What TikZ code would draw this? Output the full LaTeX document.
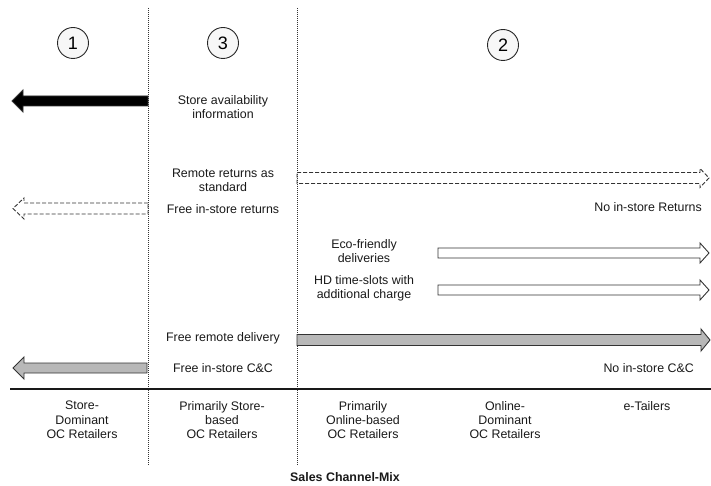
\documentclass[tikz,border=0pt]{standalone}
\usepackage{fontspec}
\setmainfont{Liberation Sans}
\newcommand\blockarrow[7]{%
  \draw[#1] ({#2},{#5-#6}) -- ({#3},{#5-#6}) -- ({#3},{#5-#7}) -- ({#4},{#5})
    -- ({#3},{#5+#7}) -- ({#3},{#5+#6}) -- ({#2},{#5+#6}) -- cycle;}
\begin{document}
\begin{tikzpicture}[x=1pt,y=-1pt,
  txt/.style={align=center,font=\fontsize{12.4}{14.2}\selectfont,text=black!90,inner sep=0pt},
  num/.style={circle,draw=black!85,line width=0.9pt,fill=black!3,minimum size=31pt,inner sep=0pt,font=\fontsize{18}{18}\selectfont},
  sep/.style={draw=black!80,line width=1pt,dash pattern=on 1pt off 1pt},
  solidarrow/.style={draw=black!80,line width=0.9pt,line join=miter},
  dasharrow/.style={draw=black!80,line width=0.9pt,dash pattern=on 4pt off 2pt},
  greyfill/.style={fill=black!28}
]
\useasboundingbox (0,0) rectangle (711,486);
% separators and axis
\coordinate (s1t) at (148,8); \coordinate (s1b) at (148,466);
\coordinate (s2t) at (297,8); \coordinate (s2b) at (297,466);
\draw[sep] (s1t) -- (s1b);
\draw[sep] (s2t) -- (s2b);
\coordinate (axl) at (10,389); \coordinate (axr) at (711,389);
\draw[line width=2pt,black!90] (axl) -- (axr);
% circled numbers
\node[num] (n1) at (73,43) {1};
\node[num] (n3) at (223,43) {3};
\node[num] (n2) at (503,45) {2};
% arrows
\blockarrow{solidarrow,fill=black}{148}{23}{12}{101}{5}{11}
\blockarrow{dasharrow}{148}{24}{13}{208.5}{5.5}{10.5}
\blockarrow{dasharrow}{297}{700}{709}{178}{5.5}{9.5}
\blockarrow{solidarrow,fill=white}{438}{700}{709}{253}{5}{10}
\blockarrow{solidarrow,fill=white}{438}{700}{709}{290}{5}{10}
\blockarrow{solidarrow,greyfill}{297}{701}{710}{340}{5.5}{11}
\blockarrow{solidarrow,greyfill}{147}{24}{13}{368}{5}{11}
% texts
\node[txt] (t1) at (223,107) {Store availability\\information};
\node[txt] (t2) at (223,180) {Remote returns as\\standard};
\node[txt] (t3) at (223,209) {Free in-store returns};
\node[txt,anchor=east] (t4) at (702,207) {No in-store Returns};
\node[txt] (t5) at (364,251) {Eco-friendly\\deliveries};
\node[txt] (t6) at (364,288) {HD time-slots with\\additional charge};
\node[txt] (t7) at (223,338) {Free remote delivery};
\node[txt] (t8) at (223,368) {Free in-store C\&C};
\node[txt,anchor=east] (t9) at (694,368) {No in-store C\&C};
% bottom labels
\node[txt,anchor=north] (c1) at (82,401) {Store-\\Dominant\\OC Retailers};
\node[txt,anchor=north] (c2) at (222,401) {Primarily Store-\\based\\OC Retailers};
\node[txt,anchor=north] (c3) at (363,401) {Primarily\\Online-based\\OC Retailers};
\node[txt,anchor=north] (c4) at (505,401) {Online-\\Dominant\\OC Retailers};
\node[txt,anchor=north] (c5) at (647,401) {e-Tailers};
\node[txt,font=\fontsize{12.4}{14}\selectfont\bfseries] (title) at (345,477) {Sales Channel-Mix};
\end{tikzpicture}
\end{document}
